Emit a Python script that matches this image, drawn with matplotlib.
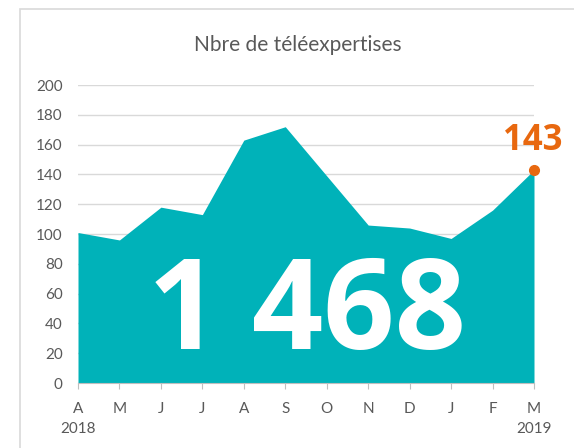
import matplotlib.pyplot as plt
from matplotlib.patches import Rectangle

months = ["A", "M", "J", "J", "A", "S", "O", "N", "D", "J", "F", "M"]
years = {0: "2018", 11: "2019"}
values = [101, 96, 118, 113, 163, 172, 139, 106, 104, 97, 116, 143]
total_label = "1 468"

teal = "#00B2B9"
orange = "#E8680F"
grey = "#595959"

plt.rcParams["font.family"] = ["Lato", "DejaVu Sans"]

fig = plt.figure(figsize=(5.74, 4.48), dpi=100)
# chart frame, running off the right and bottom edges
fig.patches.append(Rectangle((20 / 574, -0.1), 1.2, 1.1 - 9 / 448,
                             transform=fig.transFigure, fill=False,
                             edgecolor="#d9d9d9", linewidth=1.2))
ax = fig.add_axes([78 / 574, 1 - 383 / 448, (534 - 78) / 574, (383 - 85) / 448])

x = list(range(len(values)))
ax.fill_between(x, values, 0, color=teal, linewidth=0, zorder=2)
ax.set_xlim(0, len(values) - 1)
ax.set_ylim(0, 200)
ax.set_yticks(range(0, 201, 20))
ax.yaxis.grid(True, color="#d9d9d9", linewidth=1)
ax.set_axisbelow(True)
for s in ["top", "right", "left"]:
    ax.spines[s].set_visible(False)
ax.spines["bottom"].set_color("#bfbfbf")
ax.spines["bottom"].set_zorder(3)

ax.set_xticks(x)
ax.set_xticklabels([m + ("\n" + years[i] if i in years else "\n") for i, m in enumerate(months)],
                   linespacing=1.5)
ax.tick_params(axis="x", length=4, color="#bfbfbf", colors=grey, labelsize=11, pad=10)
ax.tick_params(axis="y", length=0, colors=grey, labelsize=11, pad=11)

ax.text(5.52, 23, total_label, ha="center", va="baseline", color="white",
        fontsize=90, fontweight="bold", family=["Open Sans", "DejaVu Sans"], zorder=4)

ax.plot(x[-1], values[-1], "o", color=orange, markersize=7, zorder=5, clip_on=False)
ax.annotate(str(values[-1]), (x[-1], values[-1]), xytext=(-1, 8),
            textcoords="offset points", ha="center", va="bottom",
            color=orange, fontsize=25, fontweight="bold",
            family=["Open Sans", "DejaVu Sans"], annotation_clip=False)

fig.text(298 / 574, 1 - 45 / 448, "Nbre de téléexpertises", ha="center", va="center",
         color=grey, fontsize=15)

fig.savefig("out.png", dpi=100)
